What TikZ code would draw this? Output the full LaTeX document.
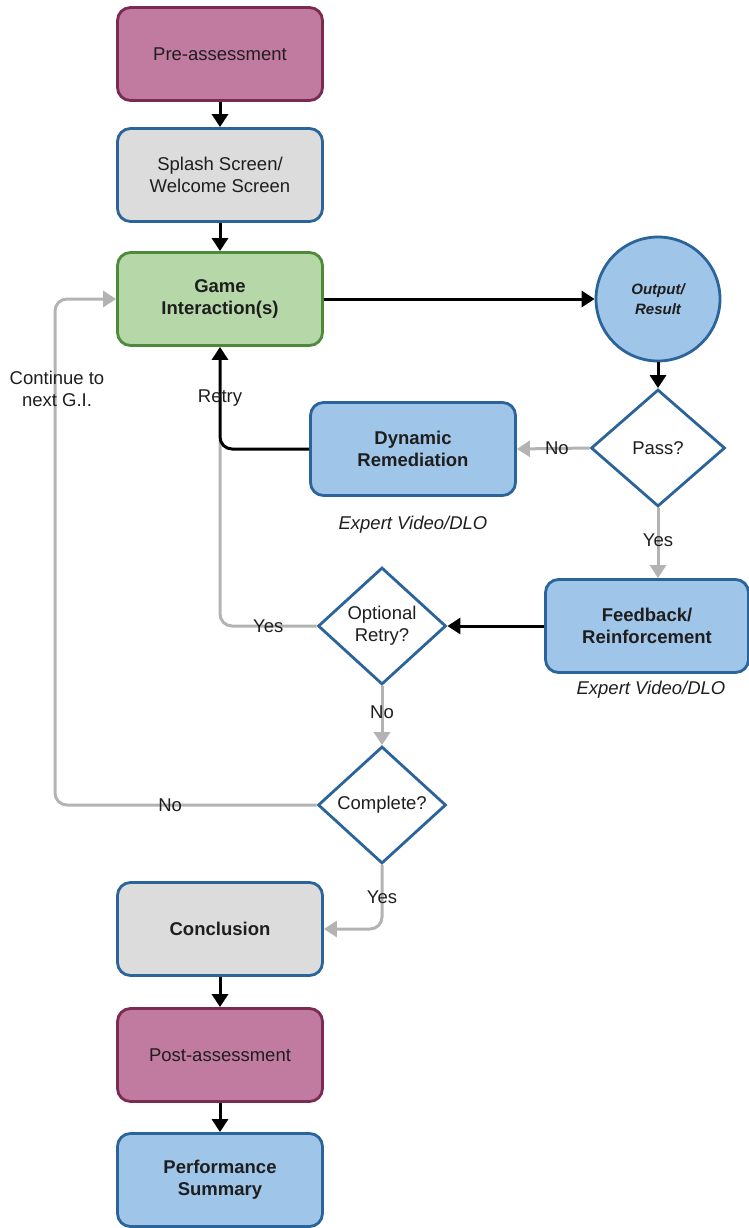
\documentclass[tikz,border=0pt]{standalone}
\usepackage{fontspec}
\setmainfont{Liberation Sans}
\usetikzlibrary{shapes.geometric,arrows.meta}
\definecolor{pinkfill}{HTML}{C27BA0}
\definecolor{pinkdraw}{HTML}{7A2B52}
\definecolor{grayfill}{HTML}{DCDCDC}
\definecolor{bluedraw}{HTML}{2B639B}
\definecolor{bluefill}{HTML}{9FC5E8}
\definecolor{greenfill}{HTML}{B6D7A8}
\definecolor{greendraw}{HTML}{4F8A3B}
\definecolor{lgray}{HTML}{B3B3B3}
\definecolor{txt}{HTML}{1E1E1E}
\begin{document}
\begin{tikzpicture}[x=1pt,y=-1pt,
  font=\fontsize{18.5}{22}\selectfont,
  box/.style={rectangle, rounded corners=13pt, minimum width=205pt, minimum height=93pt,
    line width=2.8pt, align=center, text=txt, inner sep=2pt},
  pinkbox/.style={box, fill=pinkfill, draw=pinkdraw},
  graybox/.style={box, fill=grayfill, draw=bluedraw},
  greenbox/.style={box, fill=greenfill, draw=greendraw, font=\fontsize{18.5}{22}\selectfont\bfseries},
  bluebox/.style={box, fill=bluefill, draw=bluedraw, font=\fontsize{18.5}{22}\selectfont\bfseries},
  decision/.style={diamond, draw=bluedraw, fill=white, line width=2.8pt, inner sep=0pt,
    minimum width=#1, minimum height=117pt, align=center, text=txt},
  blk/.style={line width=3pt, draw=black, -{Triangle[length=13pt,width=16pt]}},
  gry/.style={line width=3pt, draw=lgray, -{Triangle[length=13pt,width=16pt]}},
  gryline/.style={line width=3pt, draw=lgray},
  lbl/.style={text=txt, inner sep=1pt},
  note/.style={text=txt, font=\fontsize{18.5}{22}\selectfont\itshape}
]
\useasboundingbox (0,0) rectangle (748,1228);

% nodes
\node[pinkbox] (pre) at (220,54) {Pre-assessment};
\node[graybox] (splash) at (220,175) {Splash Screen/\\Welcome Screen};
\node[greenbox] (game) at (220,299) {Game\\Interaction(s)};
\node[circle, draw=bluedraw, fill=bluefill, line width=2.8pt, minimum size=124pt, align=center,
  text=txt, font=\fontsize{15}{20}\selectfont\bfseries\itshape] (out) at (658,299) {Output/\\Result};
\node[decision=134pt] (pass) at (658,448) {Pass?};
\node[bluebox] (dyn) at (413,449) {Dynamic\\Remediation};
\node[note] (dynnote) at (413,525) {Expert Video/DLO};
\node[bluebox, minimum width=203pt] (feed) at (647,626) {Feedback/\\Reinforcement};
\node[note] (feednote) at (651,690) {Expert Video/DLO};
\node[decision=128pt] (opt) at (382,626) {Optional\\Retry?};
\node[decision=128pt] (comp) at (382,805) {Complete?};
\node[graybox, font=\fontsize{18.5}{22}\selectfont\bfseries] (concl) at (220,929) {Conclusion};
\node[pinkbox] (post) at (220,1055) {Post-assessment};
\node[bluebox] (perf) at (220,1180) {Performance\\Summary};

\coordinate (retryc) at (220,449);
\coordinate (retryj) at (220,440);
\coordinate (optc) at (220,626);
\coordinate (lefttop) at (55,299);
\coordinate (leftbot) at (55,805);
\coordinate (yesc) at (382,929);

% connectors
\draw[blk] (pre) -- (splash);
\draw[blk] (splash) -- (game);
\draw[blk] (game.east) -- (out.west);
\draw[blk] (out.south) -- (pass.north);
\draw[gry] (pass.west) -- node[lbl, pos=0.45] {No} (dyn.east);
\draw[gry] (pass.south) -- node[lbl, pos=0.46] {Yes} (feed.north -| pass.south);
\draw[gryline, rounded corners=12pt] (opt.west) -- node[lbl, pos=0.5] {Yes} (optc) -- (retryj);
\draw[blk, rounded corners=12pt] (dyn.west) -- (retryc) -- node[lbl, pos=0.5] {Retry} (game.south);
\draw[blk] (feed.west) -- (opt.east);
\draw[gry] (opt.south) -- node[lbl, pos=0.45] {No} (comp.north);
\draw[gry, rounded corners=12pt] (comp.west) -- node[lbl, pos=0.56] {No} (leftbot) -- (lefttop) -- (game.west);
\draw[gry, rounded corners=12pt] (comp.south) -- node[lbl, pos=0.5] {Yes} (yesc) -- (concl.east);
\draw[blk] (concl) -- (post);
\draw[blk] (post) -- (perf);

\node[lbl, align=center, font=\fontsize{18.5}{22}\selectfont] (cont) at (57,389) {Continue to\\next G.I.};
\end{tikzpicture}
\end{document}
